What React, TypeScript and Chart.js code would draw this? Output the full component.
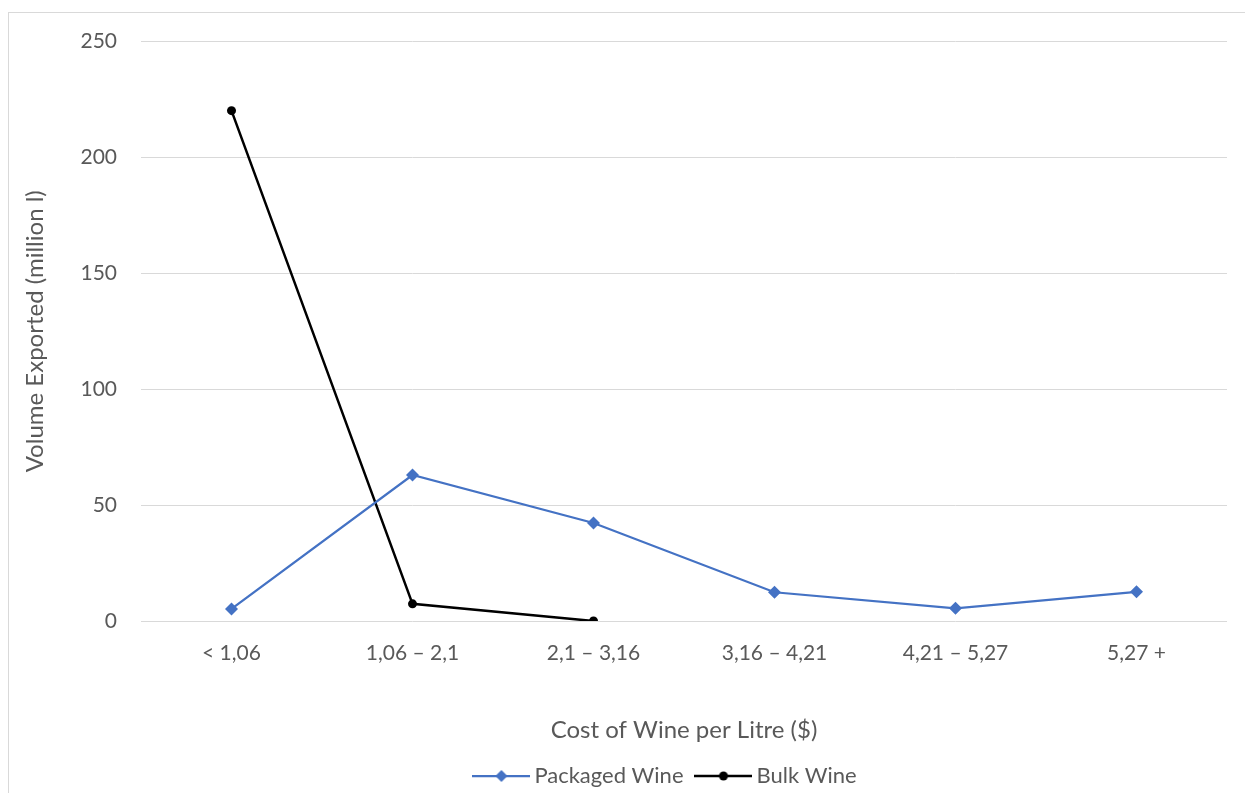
import React, { useEffect, useRef } from "react";
import { Chart, registerables } from "chart.js";

Chart.register(...registerables);

const categories = ["< 1,06", "1,06 – 2,1", "2,1 – 3,16", "3,16 – 4,21", "4,21 – 5,27", "5,27 +"];
const packagedWine = [5.2, 63, 42.3, 12.4, 5.5, 12.6];
const bulkWine = [220.2, 7.4, 0, null, null, null];
const yMax = 250;
const yStep = 50;

const FONT = "Lato, 'Open Sans', sans-serif";
const TEXT = "#595959";
const GRID = "#d9d9d9";
const BLUE = "#4472C4";

function legendIcon(color: string, kind: "diamond" | "circle") {
  const c = document.createElement("canvas");
  c.width = 58;
  c.height = 14;
  const ctx = c.getContext("2d")!;
  ctx.strokeStyle = color;
  ctx.lineWidth = kind === "diamond" ? 2.25 : 2.5;
  ctx.beginPath();
  ctx.moveTo(0, 7);
  ctx.lineTo(58, 7);
  ctx.stroke();
  ctx.fillStyle = color;
  ctx.beginPath();
  if (kind === "diamond") {
    ctx.moveTo(29, 1);
    ctx.lineTo(35, 7);
    ctx.lineTo(29, 13);
    ctx.lineTo(23, 7);
    ctx.closePath();
  } else {
    ctx.arc(29, 7, 4.5, 0, Math.PI * 2);
  }
  ctx.fill();
  return c;
}

const shiftLegend = {
  id: "shiftLegend",
  afterLayout(chart: any) {
    const lg = chart.legend;
    if (lg) {
      lg.left += 50;
      lg.right += 50;
    }
  },
};

export default function App() {
  const ref = useRef<HTMLCanvasElement>(null);
  useEffect(() => {
    const blueIcon = legendIcon(BLUE, "diamond");
    const blackIcon = legendIcon("#000", "circle");
    const chart = new Chart(ref.current!, {
      type: "line",
      data: {
        labels: categories,
        datasets: [
          {
            label: "Packaged Wine",
            data: packagedWine,
            borderColor: BLUE,
            backgroundColor: BLUE,
            borderWidth: 2.25,
            pointStyle: "rectRot",
            pointRadius: 6.5,
            pointBorderWidth: 0,
            tension: 0,
          },
          {
            label: "Bulk Wine",
            data: bulkWine,
            borderColor: "#000",
            backgroundColor: "#000",
            borderWidth: 2.5,
            pointStyle: "circle",
            pointRadius: 4.5,
            pointBorderWidth: 0,
            tension: 0,
          },
        ],
      },
      plugins: [shiftLegend],
      options: {
        animation: false,
        responsive: false,
        maintainAspectRatio: false,
        layout: { padding: { top: 20, right: 182, left: 0, bottom: 6 } },
        plugins: {
          tooltip: { enabled: false },
          legend: {
            position: "bottom",
            labels: {
              usePointStyle: true,
              pointStyleWidth: 44,
              padding: 18,
              color: TEXT,
              font: { family: FONT, size: 22 },
              generateLabels: () => [
                { text: "Packaged Wine", pointStyle: blueIcon, datasetIndex: 0, fontColor: TEXT, lineWidth: 0, hidden: false },
                { text: "Bulk Wine", pointStyle: blackIcon, datasetIndex: 1, fontColor: TEXT, lineWidth: 0, hidden: false },
              ],
            },
          },
        },
        scales: {
          x: {
            offset: true,
            grid: { display: false, drawTicks: false },
            border: { display: false },
            ticks: { color: TEXT, font: { family: FONT, size: 21 }, padding: 20, maxRotation: 0 },
            title: {
              display: true,
              text: "Cost of Wine per Litre ($)",
              color: TEXT,
              font: { family: FONT, size: 24 },
              padding: { top: 30, bottom: 2 },
            },
          },
          y: {
            min: 0,
            max: yMax,
            grid: { color: GRID, lineWidth: 1, drawTicks: false },
            border: { display: false },
            ticks: { stepSize: yStep, color: TEXT, font: { family: FONT, size: 21 }, padding: 24 },
            title: {
              display: true,
              text: "Volume Exported (million l)",
              color: TEXT,
              font: { family: FONT, size: 24 },
              padding: { top: 12, bottom: 0 },
            },
            afterFit: (scale: any) => {
              scale.width = 132;
            },
          },
        },
      },
    });
    return () => chart.destroy();
  }, []);
  return (
    <div style={{ position: "fixed", left: 0, top: 0, width: 1245, height: 793, overflow: "hidden", background: "#fff" }}>
      <div
        style={{
          position: "absolute",
          left: 8,
          top: 12,
          width: 1420,
          height: 820,
          border: "1px solid #d9d9d9",
          boxSizing: "border-box",
        }}
      >
        <canvas
          ref={ref}
          width={1400}
          height={798}
          style={{ display: "block", position: "relative", top: -8 }}
        />
      </div>
    </div>
  );
}
